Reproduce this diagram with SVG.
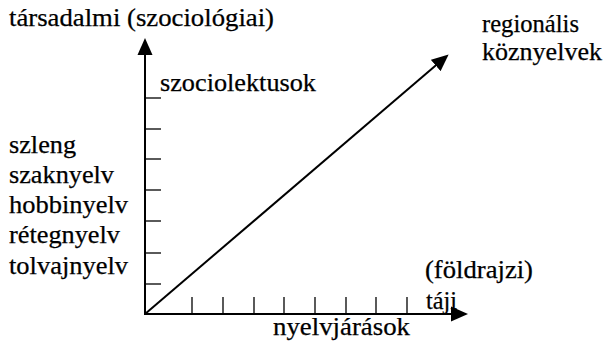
<svg xmlns="http://www.w3.org/2000/svg" width="605" height="341" viewBox="0 0 605 341">
<style>
text{font-family:Liberation Serif,Tinos,Times New Roman,serif;font-size:25px;fill:#000;stroke:#000;stroke-width:0.25}
.ax{stroke:#000;stroke-width:2;fill:none}
.tk{stroke:#000;stroke-width:1.3;fill:none}
</style>
<defs>
<marker id="ah" markerUnits="userSpaceOnUse" markerWidth="18" markerHeight="16" refX="3" refY="7.5" orient="auto" viewBox="0 0 18 15">
<path d="M0,0 L17,7.5 L0,15 z" fill="#000"/>
</marker>
</defs>
<rect width="605" height="341" fill="#fff"/>
<g id="connectors">
<line class="ax" x1="145" y1="315" x2="145" y2="52" marker-end="url(#ah)"/>
<line class="ax" x1="144" y1="314" x2="454" y2="314" marker-end="url(#ah)"/>
<line class="ax" x1="145" y1="314" x2="438" y2="63.5" marker-end="url(#ah)"/>
<g id="y-ticks">
<line class="tk" x1="145" y1="98" x2="161" y2="98"/>
<line class="tk" x1="145" y1="129" x2="161" y2="129"/>
<line class="tk" x1="145" y1="159" x2="161" y2="159"/>
<line class="tk" x1="145" y1="190" x2="161" y2="190"/>
<line class="tk" x1="145" y1="221" x2="161" y2="221"/>
<line class="tk" x1="145" y1="253" x2="161" y2="253"/>
<line class="tk" x1="145" y1="284" x2="161" y2="284"/>
</g>
<g id="x-ticks">
<line class="tk" x1="192" y1="297" x2="192" y2="314"/>
<line class="tk" x1="223" y1="297" x2="223" y2="314"/>
<line class="tk" x1="254" y1="297" x2="254" y2="314"/>
<line class="tk" x1="284" y1="297" x2="284" y2="314"/>
<line class="tk" x1="315" y1="297" x2="315" y2="314"/>
<line class="tk" x1="346" y1="297" x2="346" y2="314"/>
<line class="tk" x1="376" y1="297" x2="376" y2="314"/>
<line class="tk" x1="407" y1="297" x2="407" y2="314"/>
</g>
</g>
<g id="tarsadalmi"><text x="9" y="26" textLength="265" lengthAdjust="spacingAndGlyphs">társadalmi (szociológiai)</text></g>
<g id="szociolektusok"><text x="160" y="91" textLength="156" lengthAdjust="spacingAndGlyphs">szociolektusok</text></g>
<g id="regionalis"><text x="482" y="32" textLength="97" lengthAdjust="spacingAndGlyphs">regionális</text><text x="482" y="60" textLength="120" lengthAdjust="spacingAndGlyphs">köznyelvek</text></g>
<g id="szleng"><text x="9" y="153" textLength="67" lengthAdjust="spacingAndGlyphs">szleng</text></g>
<g id="szaknyelv"><text x="9" y="183" textLength="105" lengthAdjust="spacingAndGlyphs">szaknyelv</text></g>
<g id="hobbinyelv"><text x="9" y="213" textLength="119" lengthAdjust="spacingAndGlyphs">hobbinyelv</text></g>
<g id="retegnyelv"><text x="9" y="243" textLength="111" lengthAdjust="spacingAndGlyphs">rétegnyelv</text></g>
<g id="tolvajnyelv"><text x="9" y="274" textLength="119" lengthAdjust="spacingAndGlyphs">tolvajnyelv</text></g>
<g id="foldrajzi"><text x="425" y="278" textLength="108" lengthAdjust="spacingAndGlyphs">(földrajzi)</text><text x="426" y="309" textLength="31" lengthAdjust="spacingAndGlyphs">táji</text></g>
<g id="nyelvjarasok"><text x="273" y="335" textLength="137" lengthAdjust="spacingAndGlyphs">nyelvjárások</text></g>
</svg>
